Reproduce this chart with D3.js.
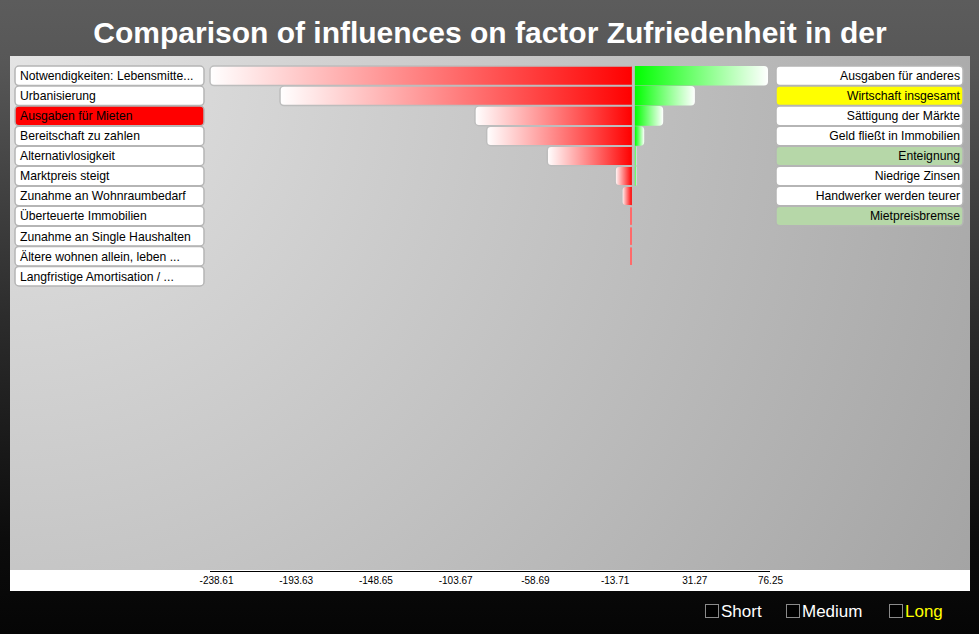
<!DOCTYPE html>
<html>
<head>
<meta charset="utf-8">
<script src="https://cdn.jsdelivr.net/npm/d3@7"></script>
<style>
  html, body { margin: 0; padding: 0; background: #000; }
  svg { display: block; }
  text { font-family: "Liberation Sans", Arial, Helvetica, sans-serif; }
</style>
</head>
<body>
<script>
const titleText = "Comparison of influences on factor Zufriedenheit in der";

const leftLabels = [
  "Notwendigkeiten: Lebensmitte...",
  "Urbanisierung",
  "Ausgaben für Mieten",
  "Bereitschaft zu zahlen",
  "Alternativlosigkeit",
  "Marktpreis steigt",
  "Zunahme an Wohnraumbedarf",
  "Überteuerte Immobilien",
  "Zunahme an Single Haushalten",
  "Ältere wohnen allein, leben ...",
  "Langfristige Amortisation / ..."
];
const leftValues = [-238.61, -199.1, -89.1, -82.5, -48.3, -10.0, -6.2, -0.6, -0.5, -0.5, 0];
const leftFills = ["#ffffff", "#ffffff", "#ff0000", "#ffffff", "#ffffff", "#ffffff", "#ffffff", "#ffffff", "#ffffff", "#ffffff", "#ffffff"];

const rightLabels = [
  "Ausgaben für anderes",
  "Wirtschaft insgesamt",
  "Sättigung der Märkte",
  "Geld fließt in Immobilien",
  "Enteignung",
  "Niedrige Zinsen",
  "Handwerker werden teurer",
  "Mietpreisbremse"
];
const rightValues = [76.25, 35.0, 17.1, 6.4, 1.5, 1.0, 0, 0];
const rightFills = ["#ffffff", "#ffff00", "#ffffff", "#ffffff", "#b6d7a8", "#ffffff", "#ffffff", "#b6d7a8"];

const tickValues = [-238.61, -193.63, -148.65, -103.67, -58.69, -13.71, 31.27, 76.25];

const legendLabels = ["Short", "Medium", "Long"];
const legendColors = ["#ffffff", "#ffffff", "#ffff00"];

const W = 979, H = 634;
const svg = d3.select("body").append("svg").attr("width", W).attr("height", H);
const defs = svg.append("defs");

const bg = defs.append("linearGradient").attr("id", "bg").attr("x1", 0).attr("y1", 0).attr("x2", 0).attr("y2", 1);
[[0, "#5c5c5c"], [0.1, "#575757"], [0.5, "#2c2c2c"], [0.85, "#0c0c0c"], [1, "#050505"]].forEach(s =>
  bg.append("stop").attr("offset", s[0]).attr("stop-color", s[1]));

const pg = defs.append("radialGradient").attr("id", "panel").attr("gradientUnits", "userSpaceOnUse")
  .attr("cx", 10).attr("cy", 56).attr("r", 1090).attr("fx", 10).attr("fy", 56);
pg.append("stop").attr("offset", 0).attr("stop-color", "#e4e4e4");
pg.append("stop").attr("offset", 1).attr("stop-color", "#a4a4a4");

const rg = defs.append("linearGradient").attr("id", "redg").attr("x1", 0).attr("x2", 1).attr("y1", 0).attr("y2", 0);
rg.append("stop").attr("offset", 0).attr("stop-color", "#ffffff");
rg.append("stop").attr("offset", 1).attr("stop-color", "#ff0000");
const gg = defs.append("linearGradient").attr("id", "greeng").attr("x1", 0).attr("x2", 1).attr("y1", 0).attr("y2", 0);
gg.append("stop").attr("offset", 0).attr("stop-color", "#00ff00");
gg.append("stop").attr("offset", 1).attr("stop-color", "#ffffff");

svg.append("rect").attr("width", W).attr("height", H).attr("fill", "url(#bg)");
svg.append("rect").attr("x", 10).attr("y", 56).attr("width", 960).attr("height", 514).attr("fill", "url(#panel)");
svg.append("rect").attr("x", 10).attr("y", 570).attr("width", 960).attr("height", 21).attr("fill", "#ffffff");

svg.append("text").attr("x", 490).attr("y", 43).attr("text-anchor", "middle")
  .attr("fill", "#ffffff").attr("font-weight", "bold").attr("font-size", 30)
  .text(titleText);

const x = d3.scaleLinear().domain([d3.min(leftValues), d3.max(rightValues)]).range([210, 768]);
const y = d3.scaleBand().domain(d3.range(leftLabels.length)).range([66, 66 + 20 * leftLabels.length]).paddingInner(0.025);
const bh = y.bandwidth();

const lg = svg.append("g").selectAll("g").data(leftLabels).join("g")
  .attr("transform", (d, i) => `translate(0,${y(i)})`);
lg.append("rect").attr("x", 15).attr("y", 0).attr("width", 189).attr("height", bh)
  .attr("rx", 4).attr("fill", (d, i) => leftFills[i]).attr("stroke", "#b5b5b5").attr("stroke-width", 1.5);
lg.append("text").attr("x", 20).attr("y", bh / 2).attr("dy", "0.36em").attr("font-size", 12.2)
  .attr("fill", "#000").text(d => d);

const rgp = svg.append("g").selectAll("g").data(rightLabels).join("g")
  .attr("transform", (d, i) => `translate(0,${y(i)})`);
rgp.append("rect").attr("x", 776).attr("y", 0).attr("width", 187).attr("height", bh)
  .attr("rx", 4).attr("fill", (d, i) => rightFills[i]).attr("stroke", "#b5b5b5").attr("stroke-width", 1.5);
rgp.append("text").attr("x", 960).attr("y", bh / 2).attr("dy", "0.36em").attr("font-size", 12.2)
  .attr("text-anchor", "end").attr("fill", "#000").text(d => d);

const x0 = x(0);
function leftBarPath(v, i) {
  const l = x(v), r = x0 - 1, t = y(i), b = y(i) + bh;
  const rad = Math.min(4, (r - l) / 2);
  return `M${r},${t}H${l + rad}A${rad},${rad} 0 0 0 ${l},${t + rad}V${b - rad}A${rad},${rad} 0 0 0 ${l + rad},${b}H${r}`;
}
const redRows = leftValues.map((v, i) => ({v, i})).filter(d => d.v < 0);
svg.append("g").selectAll("path").data(redRows.filter(d => x0 - 1 - x(d.v) > 3)).join("path")
  .attr("d", d => leftBarPath(d.v, d.i))
  .attr("fill", "url(#redg)")
  .attr("stroke", "#bdbdbd").attr("stroke-width", 1.5);
svg.append("g").selectAll("rect").data(redRows.filter(d => x0 - 1 - x(d.v) <= 3)).join("rect")
  .attr("x", d => Math.round(x(d.v)) - 2).attr("y", d => y(d.i) + 1).attr("width", 2).attr("height", bh - 2)
  .attr("fill", "#ff6a6a");

function rightBarPath(v, i) {
  const l = x0 + 2, r = Math.max(x(v), x0 + 3.5), t = y(i), b = y(i) + bh;
  const rad = Math.min(4, (r - l) / 2);
  return `M${l},${t}H${r - rad}A${rad},${rad} 0 0 1 ${r},${t + rad}V${b - rad}A${rad},${rad} 0 0 1 ${r - rad},${b}H${l}Z`;
}
svg.append("g").selectAll("path").data(rightValues.map((v, i) => ({v, i})).filter(d => d.v > 0)).join("path")
  .attr("d", d => rightBarPath(d.v, d.i))
  .attr("fill", "url(#greeng)");

const axis = d3.axisBottom(x).tickValues(tickValues).tickSize(0).tickSizeOuter(0).tickFormat(d => d.toFixed(2));
const ax = svg.append("g").attr("transform", "translate(0,571)").call(axis);
ax.select(".domain").attr("stroke", "#000").attr("stroke-width", 1).attr("d", `M${x.range()[0]},0.5H770`);
ax.selectAll(".tick text").attr("font-size", 10).attr("fill", "#000")
  .attr("font-family", "'Liberation Sans', Arial, sans-serif")
  .attr("dy", 0).attr("y", 13)
  .attr("transform", (d, i) => `translate(${i === tickValues.length - 1 ? 2 : 6},0)`);

const legX = [705, 786, 889];
const leg = svg.append("g").selectAll("g").data(legendLabels).join("g")
  .attr("transform", (d, i) => `translate(${legX[i]},604)`);
leg.append("rect").attr("x", 0.5).attr("y", 0.5).attr("width", 13).attr("height", 13)
  .attr("fill", "#000").attr("stroke", "#8a8a8a").attr("stroke-width", 1);
leg.append("text").attr("x", 16).attr("y", 13).attr("font-size", 17)
  .attr("fill", (d, i) => legendColors[i]).text(d => d);
</script>
</body>
</html>
